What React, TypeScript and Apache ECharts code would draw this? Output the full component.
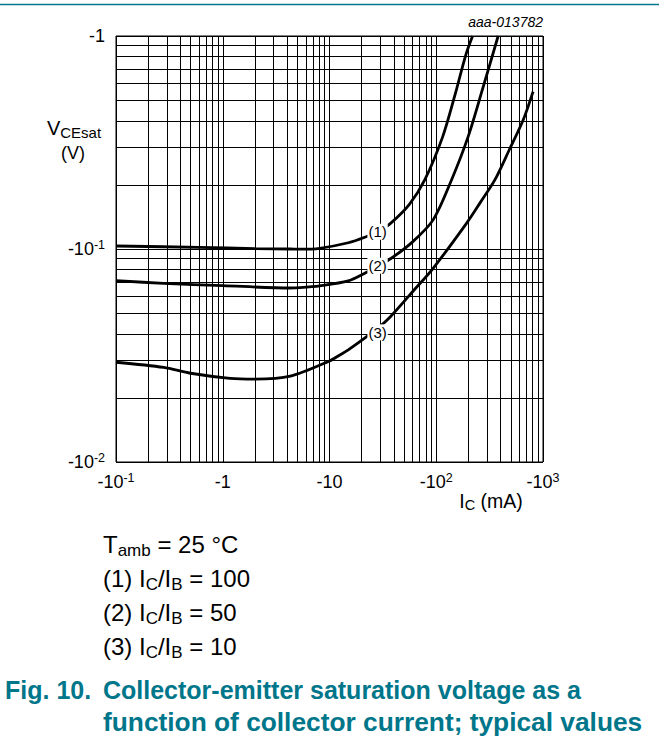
import { useEffect, useRef } from "react";
import * as echarts from "echarts";

const FONT = "'Liberation Sans', Arial, Helvetica, sans-serif";
const TEAL = "#00768a";

// Collector current |I_C| (mA) and |V_CEsat| (V) along each curve
const ratio100: [number, number][] = [
  [0.1, 0.1033], [0.6, 0.1018], [2, 0.1005], [4.3, 0.1], [5.3, 0.0998], [8.1, 0.1008],
  [15, 0.107], [21.4, 0.1135], [28.2, 0.1205], [37.3, 0.132], [56, 0.162], [78, 0.211],
  [115, 0.337], [150, 0.53], [189, 0.814], [219, 1.0],
];
const ratio50: [number, number][] = [
  [0.1, 0.071], [0.28, 0.069], [1, 0.0673], [4.3, 0.0656], [5.3, 0.0658], [8.1, 0.0671],
  [15, 0.0708], [21.4, 0.0769], [28.2, 0.0835], [37.3, 0.09], [60, 0.108], [93.5, 0.137],
  [139, 0.211], [199, 0.337], [270, 0.558], [380, 1.0],
];
const ratio10: [number, number][] = [
  [0.1, 0.0294], [0.28, 0.0278], [0.5, 0.0261], [1.17, 0.0247], [2, 0.0245], [4.3, 0.0253],
  [10, 0.0298], [12.5, 0.0318], [15, 0.0336], [28.2, 0.0424], [36.8, 0.0478], [60, 0.063],
  [93.5, 0.0812], [192, 0.132], [260, 0.166], [354, 0.211], [480, 0.29], [652, 0.403],
  [807, 0.548],
];

const curveTags = ["(1)", "(2)", "(3)"];
// Where each tag sits on its curve
const tagPoints: [number, number][] = [[28.2, 0.1205], [28.2, 0.0835], [28.2, 0.0424]];

// Decade ticks and their printed labels (negative currents / voltages)
const xMajor = [0.1, 1, 10, 100, 1000];
const xTickLabels = ["-10{sup|-1}", "-1", "-10", "-10{sup|2}", "-10{sup|3}"];
const yMajor = [0.01, 0.1, 1];
const yTickLabels = ["-10{sup|-2}", "-10{sup|-1}", "-1"];

// Intermediate log grid lines
const xMinor = [
  0.2, 0.3, 0.4, 0.5, 0.6, 0.7, 0.8, 0.9,
  2, 3, 4, 5, 6, 7, 8, 9,
  20, 30, 40, 50, 60, 70, 80, 90,
  200, 300, 400, 500, 600, 700, 800, 900,
];
const yMinor = [
  0.02, 0.03, 0.04, 0.05, 0.06, 0.07, 0.08, 0.09,
  0.2, 0.3, 0.4, 0.5, 0.6, 0.7, 0.8, 0.9,
];

const notes = [
  "T{s|amb} = 25 °C",
  "(1) I{s|C}/I{s|B} = 100",
  "(2) I{s|C}/I{s|B} = 50",
  "(3) I{s|C}/I{s|B} = 10",
];
const figNumber = "Fig. 10.";
const captionLines = [
  "Collector-emitter saturation voltage as a",
  "function of collector current; typical values",
];
const captionSizes = [25, 26.3];

const pickLabel = (majors: number[], labels: string[]) => (v: number) => {
  const i = majors.findIndex((m) => Math.abs(Math.log10(m) - Math.log10(v)) < 1e-6);
  return i >= 0 ? labels[i] : "";
};

const tickRich = {
  sup: { fontSize: 12.5, lineHeight: 12, verticalAlign: "top" as const, fontFamily: FONT, color: "#000" },
};

export default function App() {
  const ref = useRef<HTMLDivElement>(null);

  useEffect(() => {
    const chart = echarts.init(ref.current!, null, { renderer: "svg" });
    const curves = [ratio100, ratio50, ratio10];

    chart.setOption({
      animation: false,
      backgroundColor: "#fff",
      grid: {
        left: 116, top: 36, width: 427, height: 426,
        show: true, borderColor: "#000", borderWidth: 1, backgroundColor: "transparent",
      },
      xAxis: {
        type: "log", logBase: 10, min: 0.1, max: 1000,
        axisLine: { show: false }, axisTick: { show: false },
        splitLine: { show: true, lineStyle: { color: "#000", width: 1 } },
        axisLabel: {
          formatter: pickLabel(xMajor, xTickLabels),
          fontFamily: FONT, fontSize: 18, lineHeight: 22, color: "#000", margin: 9,
          rich: tickRich,
        },
      },
      yAxis: {
        type: "log", logBase: 10, min: 0.01, max: 1,
        axisLine: { show: false }, axisTick: { show: false },
        splitLine: { show: true, lineStyle: { color: "#000", width: 1 } },
        axisLabel: {
          formatter: pickLabel(yMajor, yTickLabels),
          fontFamily: FONT, fontSize: 18, lineHeight: 22, color: "#000", margin: 11,
          rich: tickRich,
        },
      },
      series: [
        {
          type: "line",
          data: [],
          silent: true,
          z: 1,
          markLine: {
            silent: true,
            z: 1,
            symbol: ["none", "none"],
            label: { show: false },
            emphasis: { disabled: true },
            lineStyle: { color: "#000", width: 1, type: "solid" },
            data: [
              ...xMinor.map((v) => ({ xAxis: v })),
              ...yMinor.map((v) => ({ yAxis: v })),
            ],
          },
        },
        ...curves.map((d, i) => ({
          type: "line",
          data: d,
          smooth: 0.3,
          showSymbol: false,
          silent: true,
          z: 3,
          lineStyle: { color: "#000", width: 2.8 },
          markPoint: {
            silent: true,
            z: 10,
            symbol: "rect",
            symbolSize: 0,
            data: [{ coord: tagPoints[i], value: curveTags[i] }],
            label: {
              show: true,
              position: "inside",
              offset: i === 2 ? [0, 4] : [0, 0],
              formatter: curveTags[i],
              fontFamily: FONT,
              fontSize: 15,
              color: "#000",
              backgroundColor: "#fff",
              padding: [1, 1, 0, 1],
            },
          },
        })),
      ],
      graphic: [
        {
          type: "line",
          shape: { x1: 0, y1: 4.5, x2: 659, y2: 4.5 },
          style: { stroke: TEAL, lineWidth: 1.6 },
        },
        {
          type: "text", x: 543, y: 22,
          style: {
            text: "aaa-013782", fontFamily: FONT, fontSize: 14, fontStyle: "italic",
            fill: "#000", textAlign: "right", textVerticalAlign: "middle",
          },
        },
        {
          type: "text", x: 74, y: 128,
          style: {
            text: "V{s|CEsat}", fontFamily: FONT, fontSize: 20, lineHeight: 24, fill: "#000",
            textAlign: "center", textVerticalAlign: "middle",
            rich: { s: { fontFamily: FONT, fontSize: 15, lineHeight: 15, verticalAlign: "bottom", fill: "#000" } },
          },
        },
        {
          type: "text", x: 73, y: 153,
          style: {
            text: "(V)", fontFamily: FONT, fontSize: 18, fill: "#000",
            textAlign: "center", textVerticalAlign: "middle",
          },
        },
        {
          type: "text", x: 491, y: 501,
          style: {
            text: "I{s|C} (mA)", fontFamily: FONT, fontSize: 19.5, lineHeight: 23, fill: "#000",
            textAlign: "center", textVerticalAlign: "middle",
            rich: { s: { fontFamily: FONT, fontSize: 14.5, lineHeight: 14, verticalAlign: "bottom", fill: "#000" } },
          },
        },
        ...notes.map((t, i) => ({
          type: "text", x: 103, y: 544 + i * 34,
          style: {
            text: t, fontFamily: FONT, fontSize: 24, lineHeight: 30, fill: "#000",
            textAlign: "left", textVerticalAlign: "middle",
            rich: { s: { fontFamily: FONT, fontSize: 17, lineHeight: 17, verticalAlign: "bottom", fill: "#000" } },
          },
        })),
        {
          type: "text", x: 5, y: 690,
          style: {
            text: figNumber, fontFamily: FONT, fontSize: 25, fontWeight: "bold", fill: TEAL,
            textAlign: "left", textVerticalAlign: "middle",
          },
        },
        ...captionLines.map((t, i) => ({
          type: "text", x: 103, y: 690 + i * 32,
          style: {
            text: t, fontFamily: FONT, fontSize: captionSizes[i], fontWeight: "bold", fill: TEAL,
            textAlign: "left", textVerticalAlign: "middle",
          },
        })),
      ],
    });

    return () => chart.dispose();
  }, []);

  return (
    <div
      ref={ref}
      style={{ position: "absolute", left: 0, top: 0, width: 659, height: 752, background: "#fff" }}
    />
  );
}
